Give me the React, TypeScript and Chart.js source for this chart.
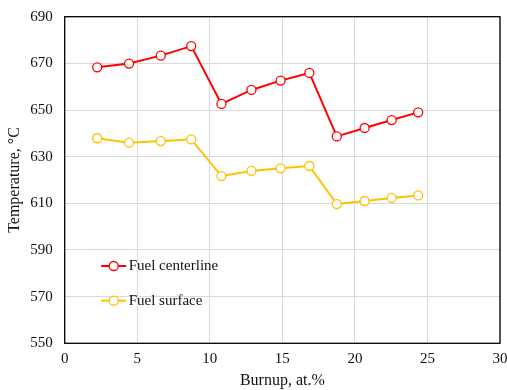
import React, { useEffect, useRef } from "react";
import { Chart, registerables } from "chart.js";

Chart.register(...registerables);

const burnup = [2.24, 4.43, 6.62, 8.72, 10.8, 12.87, 14.88, 16.86, 18.75, 20.67, 22.53, 24.36];
const centerline = [668.3, 669.9, 673.3, 677.4, 652.6, 658.6, 662.6, 665.9, 638.7, 642.3, 645.7, 649.0];
const surface = [637.9, 636.0, 636.7, 637.4, 621.7, 623.9, 625.0, 626.0, 609.7, 611.0, 612.3, 613.4];
const seriesNames = ["Fuel centerline", "Fuel surface"];
const seriesColors = ["#ff0000", "#ffc000"];
const xRange = [0, 30, 5];
const yRange = [550, 690, 20];
const xTitle = "Burnup, at.%";
const yTitle = "Temperature, °C";

const FONT = "'Liberation Serif', 'Times New Roman', serif";

const framePlugin = {
  id: "frame",
  afterDraw(chart: any) {
    const { ctx, chartArea: a } = chart;
    ctx.save();
    ctx.strokeStyle = "#000";
    ctx.lineWidth = 1.3;
    ctx.strokeRect(a.left, a.top, a.right - a.left, a.bottom - a.top);
    ctx.restore();
  },
};

const legendPlugin = {
  id: "innerLegend",
  afterDraw(chart: any) {
    const { ctx, chartArea: a } = chart;
    const rows = [a.bottom - 77.3, a.bottom - 42.6];
    ctx.save();
    chart.data.datasets.forEach((ds: any, i: number) => {
      const y = rows[i];
      const x0 = a.left + 36.5;
      const x1 = a.left + 61.5;
      const cx = a.left + 49;
      ctx.strokeStyle = ds.borderColor;
      ctx.lineWidth = 2;
      ctx.beginPath();
      ctx.moveTo(x0, y);
      ctx.lineTo(x1, y);
      ctx.stroke();
      ctx.fillStyle = "#fff";
      ctx.lineWidth = 1.3;
      ctx.beginPath();
      ctx.arc(cx, y, 4.5, 0, Math.PI * 2);
      ctx.fill();
      ctx.stroke();
      ctx.fillStyle = "#111";
      ctx.font = `15px ${FONT}`;
      ctx.textBaseline = "middle";
      ctx.textAlign = "left";
      ctx.fillText(ds.label, a.left + 64, y);
    });
    ctx.restore();
  },
};

export default function App() {
  const ref = useRef<HTMLCanvasElement>(null);
  useEffect(() => {
    if (!ref.current) return;
    const mk = (vals: number[], i: number) => ({
      label: seriesNames[i],
      data: burnup.map((x, k) => ({ x, y: vals[k] })),
      borderColor: seriesColors[i],
      backgroundColor: "#ffffff",
      pointBackgroundColor: "#ffffff",
      pointBorderColor: seriesColors[i],
      pointRadius: 4.5,
      pointBorderWidth: 1.3,
      borderWidth: 2,
      tension: 0,
      fill: false,
    });
    const chart = new Chart(ref.current, {
      type: "line",
      data: { datasets: [mk(centerline, 0), mk(surface, 1)] },
      options: {
        animation: false,
        responsive: true,
        maintainAspectRatio: false,
        layout: { padding: { left: 0, right: 7, top: 16.7, bottom: 0 } },
        plugins: { legend: { display: false }, tooltip: { enabled: false } },
        scales: {
          x: {
            type: "linear",
            min: xRange[0],
            max: xRange[1],
            ticks: { stepSize: xRange[2], color: "#111", font: { family: FONT, size: 15 }, padding: 7 },
            grid: { color: "#d9d9d9", lineWidth: 1, drawTicks: false },
            border: { display: false },
            title: { display: true, text: xTitle, color: "#111", font: { family: FONT, size: 16, lineHeight: 1 }, padding: { top: 0, bottom: 1 } },
            afterFit: (s: any) => {
              s.height = 46.7;
              s.paddingLeft = 0;
              s.paddingRight = 0;
            },
          },
          y: {
            type: "linear",
            min: yRange[0],
            max: yRange[1],
            ticks: { stepSize: yRange[2], color: "#111", font: { family: FONT, size: 15 }, padding: 12 },
            grid: { color: "#d9d9d9", lineWidth: 1, drawTicks: false },
            border: { display: false },
            title: { display: true, text: yTitle, color: "#111", font: { family: FONT, size: 16, lineHeight: 1 }, padding: { top: 7, bottom: 0 } },
            afterFit: (s: any) => {
              s.width = 64.7;
              s.paddingTop = 0;
              s.paddingBottom = 0;
            },
          },
        },
      },
      plugins: [framePlugin, legendPlugin],
    } as any);
    return () => chart.destroy();
  }, []);
  return (
    <div style={{ position: "fixed", left: 0, top: 0, width: 507, height: 390, background: "#fff" }}>
      <canvas ref={ref} />
    </div>
  );
}
